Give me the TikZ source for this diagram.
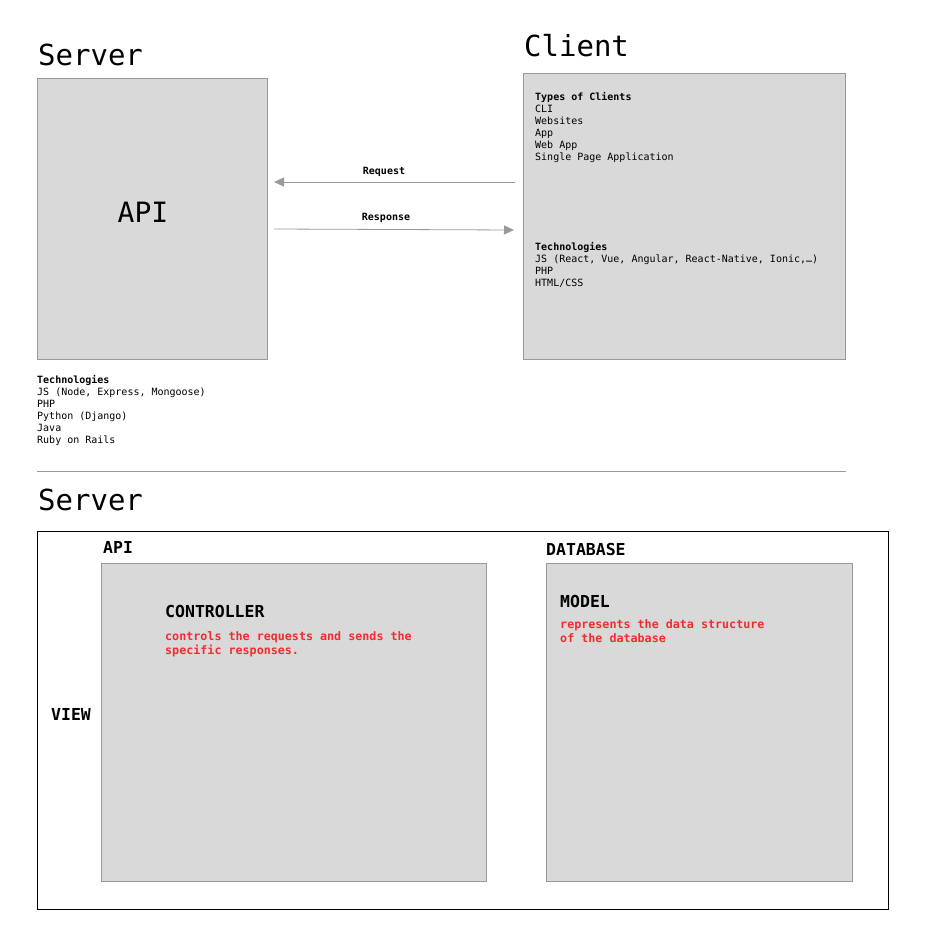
\documentclass[tikz,border=0pt]{standalone}
\usepackage{fontspec}
\setmainfont{DejaVu Sans Mono}
\usetikzlibrary{arrows.meta}
\definecolor{boxgray}{RGB}{217,217,217}
\definecolor{edgegray}{RGB}{153,153,153}
\definecolor{notered}{RGB}{240,45,45}
\tikzset{
  panel/.style={draw=edgegray, fill=boxgray, line width=0.8},
  heading/.style={font=\fontsize{29}{34}\selectfont, inner sep=0pt},
  small/.style={font=\fontsize{10}{12}\selectfont, align=left, inner sep=0pt},
  label/.style={font=\fontsize{16.5}{20}\selectfont\bfseries, inner sep=0pt},
  note/.style={font=\fontsize{11.7}{14}\selectfont\bfseries, text=notered, align=left, inner sep=0pt},
  arr/.style={draw=edgegray, line width=0.8, -{Triangle[length=10,width=9]}}
}
\begin{document}
\begin{tikzpicture}[x=1pt,y=1pt,yscale=-1,xscale=1]
\path (0,0) rectangle (932,942);

% Server box
\node [heading, anchor=base west] (srvtitle) at (38,66) {Server};
\draw [panel] (37,78) rectangle (267,359);
\node [font=\fontsize{28}{32}\selectfont] (api) at (143,212) {API};
\node [small, anchor=north west] (srvtech) at (37,375.5) {\textbf{Technologies}\\JS (Node, Express, Mongoose)\\PHP\\Python (Django)\\Java\\Ruby on Rails};

% Client box
\node [heading, anchor=base west] (clititle) at (524,57) {Client};
\draw [panel] (523,73) rectangle (845,359);
\node [small, anchor=north west] (clitypes) at (535,92.5) {\textbf{Types of Clients}\\CLI\\Websites\\App\\Web App\\Single Page Application};
\node [small, anchor=north west] (clitech) at (535,242.5) {\textbf{Technologies}\\JS (React, Vue, Angular, React-Native, Ionic,…)\\PHP\\HTML/CSS};

% Request / Response
\coordinate (reqfrom) at (515,182);
\coordinate (reqto) at (274,182);
\coordinate (resfrom) at (274,229);
\coordinate (resto) at (514,230);
\draw [arr] (reqfrom) -- (reqto);
\draw [arr] (resfrom) -- (resto);
\node [small, font=\fontsize{10}{12}\selectfont\bfseries] (reqlabel) at (384,171.5) {Request};
\node [small, font=\fontsize{10}{12}\selectfont\bfseries] (reslabel) at (386,217.5) {Response};

% separator
\draw [edgegray, line width=0.8] (37,471) -- (846,471);

% Server detail
\node [heading, anchor=base west] (srvtitle2) at (38,510) {Server};
\draw [line width=0.8] (37,531) rectangle (888,909);
\node [label, anchor=west] (viewlabel) at (51,714) {VIEW};
\node [label, anchor=west] (apilabel) at (103,547) {API};
\draw [panel] (101,563) rectangle (486,881);
\node [label, anchor=west] (ctrl) at (165,611) {CONTROLLER};
\node [note, anchor=north west] (ctrlnote) at (165,631) {controls the requests and sends the\\specific responses.};
\node [label, anchor=west] (dblabel) at (546,549) {DATABASE};
\draw [panel] (546,563) rectangle (852,881);
\node [label, anchor=west] (model) at (560,601) {MODEL};
\node [note, anchor=north west] (modelnote) at (560,619) {represents the data structure\\of the database};
\end{tikzpicture}
\end{document}
